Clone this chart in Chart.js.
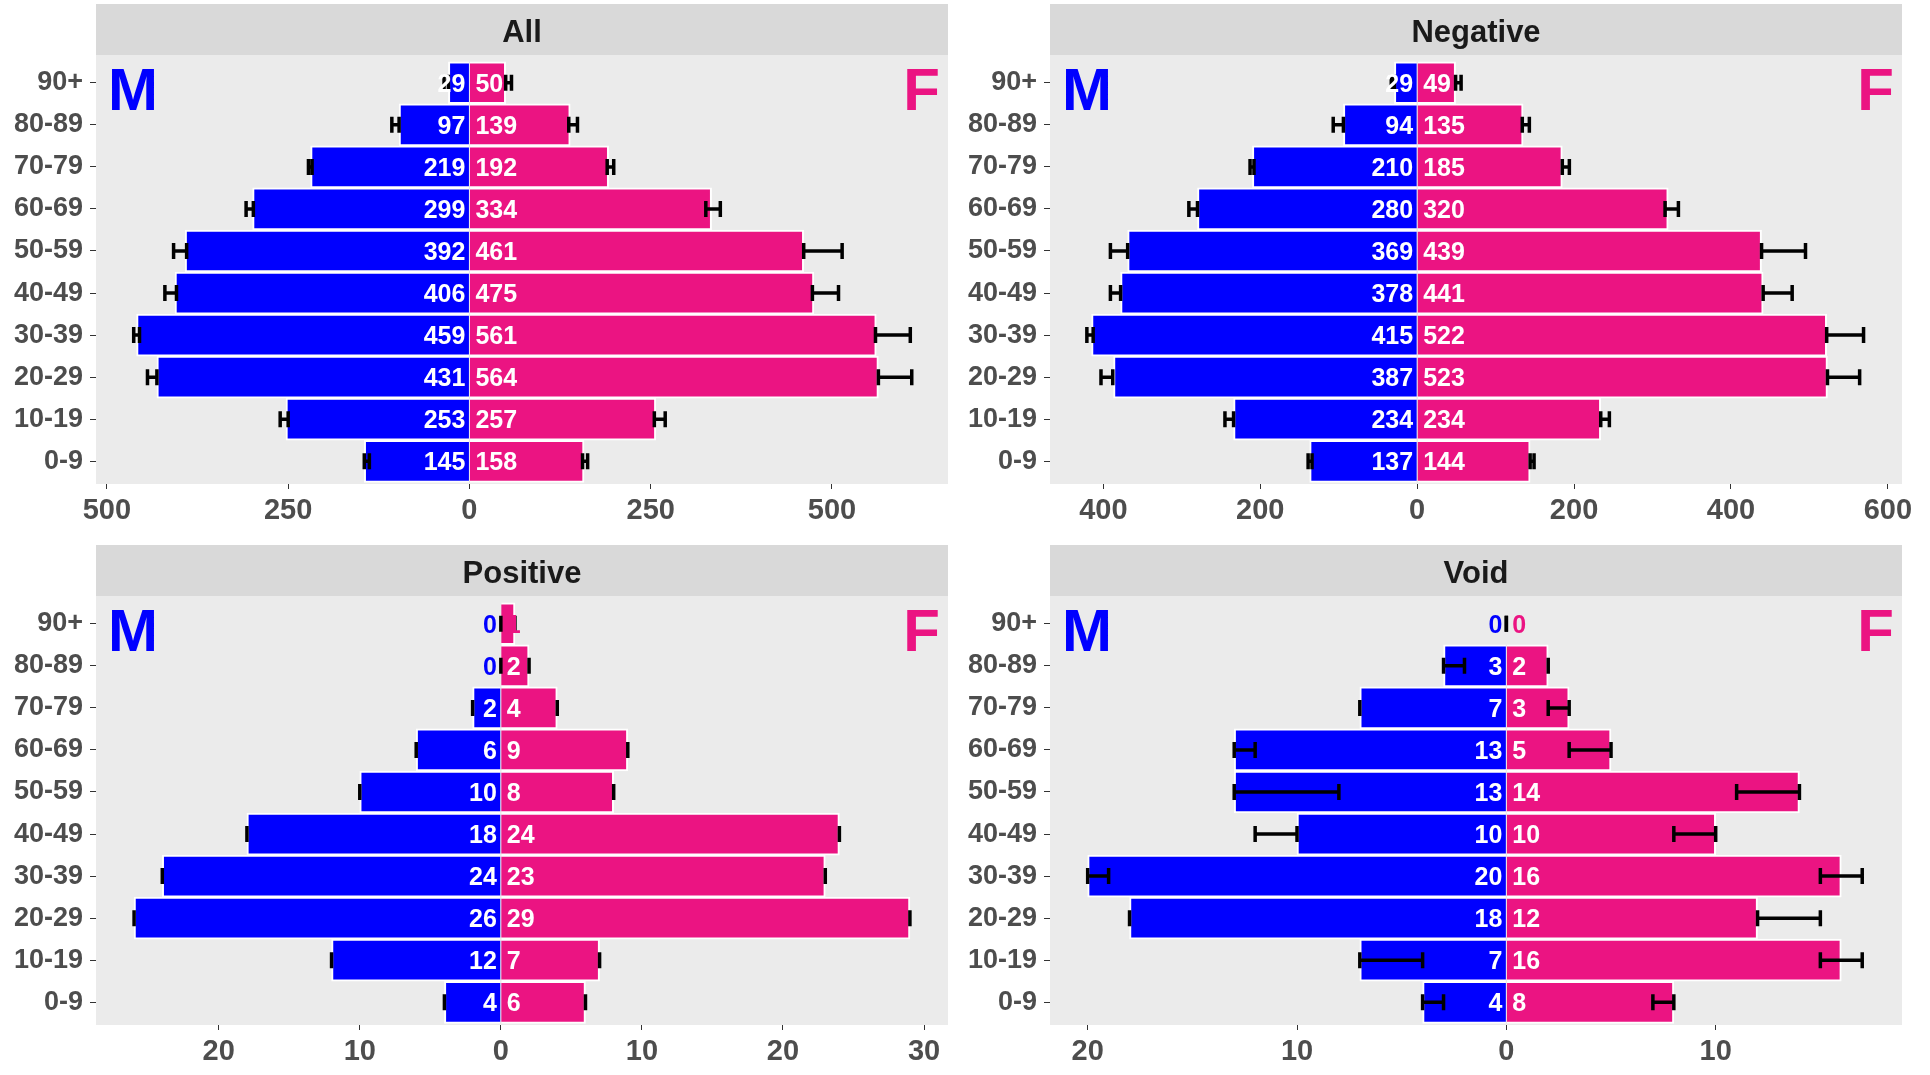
<!DOCTYPE html>
<html>
<head>
<meta charset="utf-8">
<script src="https://cdn.jsdelivr.net/npm/chart.js@4.4.0/dist/chart.umd.min.js"></script>
<style>
body{margin:0;background:#fff;width:1930px;height:1075px;overflow:hidden;position:relative}
canvas{position:absolute}
</style>
</head>
<body>
<canvas id="c_all" width="960" height="535" style="left:0;top:0"></canvas>
<canvas id="c_neg" width="970" height="535" style="left:960px;top:0"></canvas>
<canvas id="c_pos" width="960" height="535" style="left:0;top:541px"></canvas>
<canvas id="c_void" width="970" height="535" style="left:960px;top:541px"></canvas>
<script>
// age groups, bottom to top
var ageGroups = ['0-9','10-19','20-29','30-39','40-49','50-59','60-69','70-79','80-89','90+'];

// All
var allMale   = [145,253,431,459,406,392,299,219,97,29];
var allFemale = [158,257,564,561,475,461,334,192,139,50];
var allMaleLo   = [138,250,431,455,404,390,298,217,97,29];
var allMaleHi   = [145,261,444,463,420,408,308,222,107,35];
var allFemaleLo = [156,255,564,560,473,461,326,190,137,50];
var allFemaleHi = [163,270,610,608,509,514,346,199,149,58];
var allTicks = [-500,-250,0,250,500];

// Negative
var negMale   = [137,234,387,415,378,369,280,210,94,29];
var negFemale = [144,234,523,522,441,439,320,185,135,49];
var negMaleLo   = [134,234,388,413,378,369,280,208,94,29];
var negMaleHi   = [139,245,403,421,391,391,291,213,107,33];
var negFemaleLo = [144,234,523,522,441,439,316,185,134,49];
var negFemaleHi = [149,245,564,569,478,495,333,194,143,56];
var negTicks = [-400,-200,0,200,400,600];

// Positive (error bars collapse to the bar end)
var posMale   = [4,12,26,24,18,10,6,2,0,0];
var posFemale = [6,7,29,23,24,8,9,4,2,1];
var posTicks = [-20,-10,0,10,20,30];

// Void
var voidMale   = [4,7,18,20,10,13,13,7,3,0];
var voidFemale = [8,16,12,16,10,14,5,3,2,0];
var voidMaleLo   = [3,4,18,19,10,8,12,7,2,0];
var voidMaleHi   = [4,7,18,20,12,13,13,7,3,0];
var voidFemaleLo = [7,15,12,15,8,11,3,2,2,0];
var voidFemaleHi = [8,17,15,17,10,14,5,3,2,0];
var voidTicks = [-20,-10,0,10];

var maleColor = '#0000FF';
var femaleColor = '#EB1482';
var fontName = '"Liberation Sans", Arial, sans-serif';

var pyramidPlugin = {
  id: 'pyramid',
  beforeDraw: function(chart) {
    var ctx = chart.ctx, a = chart.chartArea, o = chart.options.plugins.pyramid;
    ctx.save();
    ctx.fillStyle = '#EBEBEB';
    ctx.fillRect(a.left, a.top, a.right - a.left, a.bottom - a.top);
    // strip
    ctx.fillStyle = '#D9D9D9';
    ctx.fillRect(a.left, 4, a.right - a.left, a.top - 4);
    ctx.fillStyle = '#1A1A1A';
    ctx.font = 'bold 31px ' + fontName;
    ctx.textAlign = 'center';
    ctx.textBaseline = 'alphabetic';
    ctx.fillText(o.title, (a.left + a.right) / 2, (a.top + 4) / 2 + 12);
    ctx.restore();
  },
  afterDatasetsDraw: function(chart) {
    var ctx = chart.ctx, a = chart.chartArea, o = chart.options.plugins.pyramid;
    var xs = chart.scales.x, ys = chart.scales.y;
    var x0 = xs.getPixelForValue(0);
    ctx.save();
    // error bars
    ctx.strokeStyle = '#000';
    ctx.lineWidth = 3.5;
    [[o.maleLo, o.maleHi, -1], [o.femaleLo, o.femaleHi, 1]].forEach(function(e) {
      for (var i = 0; i < ageGroups.length; i++) {
        var y = ys.getPixelForValue(i);
        var p1 = xs.getPixelForValue(e[2] * e[0][i]);
        var p2 = xs.getPixelForValue(e[2] * e[1][i]);
        ctx.beginPath();
        ctx.moveTo(p1, y); ctx.lineTo(p2, y);
        ctx.moveTo(p1, y - 8); ctx.lineTo(p1, y + 8);
        ctx.moveTo(p2, y - 8); ctx.lineTo(p2, y + 8);
        ctx.stroke();
      }
    });
    // value labels
    ctx.font = 'bold 25px ' + fontName;
    ctx.textBaseline = 'alphabetic';
    for (var i = 0; i < ageGroups.length; i++) {
      var y = ys.getPixelForValue(i) + 9;
      var m = o.male[i], f = o.female[i];
      ctx.textAlign = 'right';
      ctx.fillStyle = m < 2 ? maleColor : '#fff';
      ctx.fillText(m, x0 - 4, y);
      ctx.textAlign = 'left';
      ctx.fillStyle = f < 2 ? femaleColor : '#fff';
      ctx.fillText(f, x0 + 6, y);
    }
    // M / F
    ctx.font = 'bold 60px ' + fontName;
    ctx.textAlign = 'left';
    ctx.fillStyle = maleColor;
    ctx.fillText('M', a.left + 12, a.top + 55);
    ctx.textAlign = 'right';
    ctx.fillStyle = femaleColor;
    ctx.fillText('F', a.right - 8, a.top + 55);
    ctx.restore();
  }
};

function pyramid(id, title, male, female, maleLo, maleHi, femaleLo, femaleHi, xMin, xMax, xTicks, plotLeft, padRight)
{
 var canvas = document.getElementById(id);
 new Chart(canvas, {
   type: 'bar',
   data: {
     datasets: [{
       label: 'M',
       data: male.map(function(v, i) { return {x: -v, y: i}; }),
       backgroundColor: maleColor,
       borderColor: '#fff',
       borderWidth: 2,
       barPercentage: 1,
       categoryPercentage: 1
     }, {
       label: 'F',
       data: female.map(function(v, i) { return {x: v, y: i}; }),
       backgroundColor: femaleColor,
       borderColor: '#fff',
       borderWidth: 2,
       barPercentage: 1,
       categoryPercentage: 1
     }]
   },
   options: {
     indexAxis: 'y',
     responsive: false,
     animation: false,
     devicePixelRatio: 1,
     layout: { padding: { top: 55, right: padRight, left: 0, bottom: 0 } },
     scales: {
       x: {
         type: 'linear', min: xMin, max: xMax, stacked: true,
         afterBuildTicks: function(s) { s.ticks = xTicks.map(function(v) { return {value: v}; }); },
         afterFit: function(s) { s.height = 51; },
         grid: { drawOnChartArea: false, tickLength: 5, color: '#333' },
         border: { display: false },
         ticks: {
           autoSkip: false, maxRotation: 0, padding: 4.5, color: '#4D4D4D',
           font: { family: fontName, size: 29, weight: 'bold' },
           callback: function(v) { return Math.abs(v); }
         }
       },
       y: {
         type: 'linear', min: -0.54, max: 9.66, stacked: true, offset: false,
         afterBuildTicks: function(s) { s.ticks = ageGroups.map(function(g, i) { return {value: i}; }); },
         afterFit: function(s) { s.width = plotLeft; },
         grid: { drawOnChartArea: false, offset: false, tickLength: 6, color: '#333' },
         border: { display: false },
         ticks: {
           autoSkip: false, padding: 7, color: '#4D4D4D',
           font: { family: fontName, size: 27, weight: 'bold' },
           callback: function(v) { return ageGroups[v]; }
         }
       }
     },
     plugins: {
       legend: { display: false },
       tooltip: { enabled: false },
       pyramid: {
         title: title, male: male, female: female,
         maleLo: maleLo, maleHi: maleHi, femaleLo: femaleLo, femaleHi: femaleHi
       }
     }
   },
   plugins: [pyramidPlugin]
 });
}

pyramid('c_all', 'All', allMale, allFemale, allMaleLo, allMaleHi, allFemaleLo, allFemaleHi, -515, 660, allTicks, 96, 12);
pyramid('c_neg', 'Negative', negMale, negFemale, negMaleLo, negMaleHi, negFemaleLo, negFemaleHi, -468, 618, negTicks, 90, 28);
pyramid('c_pos', 'Positive', posMale, posFemale, posMale, posMale, posFemale, posFemale, -28.7, 31.7, posTicks, 96, 12);
pyramid('c_void', 'Void', voidMale, voidFemale, voidMaleLo, voidMaleHi, voidFemaleLo, voidFemaleHi, -21.8, 18.9, voidTicks, 90, 28);
</script>
</body>
</html>
